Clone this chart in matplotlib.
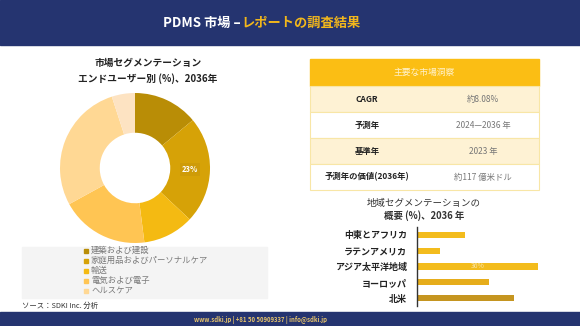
import matplotlib
matplotlib.use("Agg")
import matplotlib.pyplot as plt
from matplotlib.patches import Rectangle
import numpy as np

plt.rcParams['font.family'] = ['Noto Sans CJK JP', 'DejaVu Sans']

# ---------------- data ----------------
title_white = "PDMS 市場 –"
title_gold = "レポートの調査結果"

donut_title = ["市場セグメンテーション", "エンドユーザー別 (%)、2036年"]
enduser_labels = ["建築および建設", "家庭用品およびパーソナルケア", "輸送", "電気および電子", "ヘルスケア", ""]
enduser_values = [14, 23, 11, 19, 28, 5]
enduser_colors = ["#B98D06", "#D6A207", "#F4BA12", "#FFC553", "#FFD894", "#FDE3C2"]
donut_label_index = 1

table_header = "主要な市場洞察"
table_keys = ["CAGR", "予測年", "基準年", "予測年の価値(2036年)"]
table_vals = ["約8.08%", "2024—2036 年", "2023 年", "約117 億米ドル"]

region_title = ["地域セグメンテーションの", "概要 (%)、2036 年"]
regions = ["中東とアフリカ", "ラテンアメリカ", "アジア太平洋地域", "ヨーロッパ", "北米"]
region_values = [14.3, 7.1, 36, 21.5, 28.8]
region_colors = ["#F3BC1D", "#F3BC1D", "#F3BC1D", "#E6AD1B", "#C59520"]
region_label_index = 2

source_text = "ソース：SDKI Inc. 分析"
footer_text = "www.sdki.jp | +81 50 50909337 | info@sdki.jp"

NAVY = "#253470"
GOLD = "#F2B71C"

W, H = 580, 326
fig = plt.figure(figsize=(W / 100, H / 100), dpi=100)
fig.patch.set_facecolor("white")

# background overlay axes in pixel coords
bg = fig.add_axes([0, 0, 1, 1])
bg.set_xlim(0, W)
bg.set_ylim(H, 0)
bg.axis("off")

# header / footer bands
bg.add_patch(Rectangle((0, 0), W, 45, color=NAVY, zorder=0))
bg.add_patch(Rectangle((0, 312), W, 14, color=NAVY, zorder=0))

t1 = bg.text(163, 23, title_white, color="white", fontsize=9.5, fontweight="bold",
             ha="left", va="center")
fig.canvas.draw()
bb = t1.get_window_extent(renderer=fig.canvas.get_renderer())
x_end = bb.x1 / fig.dpi * 100
bg.text(x_end + 1, 23, title_gold, color=GOLD, fontsize=9.5, fontweight="bold",
        ha="left", va="center")

bg.text(261, 319.5, footer_text, color="#E8C46C", fontsize=4.3, fontweight="bold",
        ha="center", va="center")

# donut title
bg.text(148, 63, donut_title[0], fontsize=7, fontweight="bold", color="#222222",
        ha="center", va="center")
bg.text(148, 79, donut_title[1], fontsize=7, fontweight="bold", color="#222222",
        ha="center", va="center")

# legend box
bg.add_patch(Rectangle((22, 247), 245, 51, color="#F4F4F4", zorder=0))
for i, lab in enumerate(enduser_labels[:5]):
    y = 250.5 + i * 10.1
    bg.add_patch(Rectangle((83.5, y - 2.0), 4.0, 4.0, color=enduser_colors[i], zorder=2))
    bg.text(91, y, lab, fontsize=6, color="#7A7A7A", ha="left", va="center")

bg.text(22, 306, source_text, fontsize=5.3, color="#333333", ha="left", va="center",
        style="italic")

# table
tx0, tx1 = 310, 539
bg.add_patch(Rectangle((tx0, 59), tx1 - tx0, 27, color="#FBBE14", zorder=1))
bg.text((tx0 + tx1) / 2, 72.5, table_header, fontsize=6.3, color="#FFF3D0",
        ha="center", va="center")
row_tops = [86, 112, 138, 164]
row_h = 26.3
for i, (k, v) in enumerate(zip(table_keys, table_vals)):
    y0 = row_tops[i]
    fc = "#FEF2D4" if i % 2 == 0 else "white"
    bg.add_patch(Rectangle((tx0, y0), tx1 - tx0, row_h, facecolor=fc,
                           edgecolor="#F8E6A6", linewidth=0.8, zorder=1))
    bg.text(367, y0 + row_h / 2, k, fontsize=6, fontweight="bold", color="#222222",
            ha="center", va="center")
    bg.text(483, y0 + row_h / 2, v, fontsize=6, color="#777777",
            ha="center", va="center")

# bar chart title
bg.text(424, 203, region_title[0], fontsize=6.8, color="#333333", ha="center", va="center")
bg.text(424, 215.5, region_title[1], fontsize=6.8, fontweight="bold", color="#333333",
        ha="center", va="center")

# ---------------- donut ----------------
size = 160
cx, cy = 135, 168
axd = fig.add_axes([(cx - size / 2) / W, 1 - (cy + size / 2) / H, size / W, size / H])
R = 75 / (size / 2)
wedges, _ = axd.pie(enduser_values, colors=enduser_colors, startangle=90, counterclock=False,
                    radius=R, wedgeprops=dict(width=R * 0.53, edgecolor="none"))
axd.set_xlim(-1, 1)
axd.set_ylim(-1, 1)
axd.set_aspect("equal")
axd.axis("off")
w = wedges[donut_label_index]
ang = np.deg2rad((w.theta1 + w.theta2) / 2)
rr = R * 0.735
pct = enduser_values[donut_label_index] / sum(enduser_values) * 100
axd.text(rr * np.cos(ang), rr * np.sin(ang), f"{pct:.0f}%", fontsize=5.5, fontweight="bold",
         color="white", ha="center", va="center",
         bbox=dict(boxstyle="square,pad=0.25", fc="#C9970A", ec="none", alpha=0.6))

# ---------------- bars ----------------
axb = fig.add_axes([416.5 / W, 1 - 306 / H, 130 / W, 79 / H])
ypos = np.arange(len(regions))
axb.barh(ypos, region_values, height=0.38, color=region_colors)
axb.set_xlim(0, 36 * 130 / 121.6)
axb.set_ylim(len(regions) - 0.5, -0.5)
axb.set_yticks(ypos)
axb.set_yticklabels(regions, fontsize=6.5, fontweight="bold", color="#222222")
axb.tick_params(axis="y", length=0, pad=7)
axb.set_xticks([])
for s in ["top", "right", "bottom"]:
    axb.spines[s].set_visible(False)
axb.spines["left"].set_color("#333333")
axb.spines["left"].set_linewidth(1)
axb.patch.set_alpha(0)
axb.text(region_values[region_label_index] * 0.5, region_label_index,
         f"{region_values[region_label_index]:.0f}%", fontsize=5, color="#F8E3A8",
         ha="center", va="center")

fig.savefig("out.png", dpi=100)
